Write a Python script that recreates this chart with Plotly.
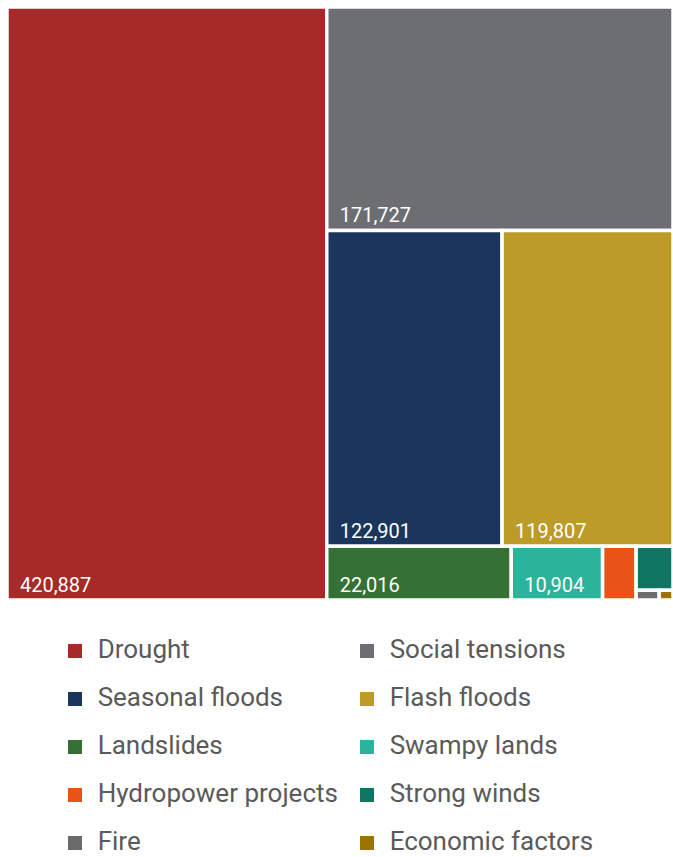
import plotly.graph_objects as go

categories = ["Drought", "Social tensions", "Seasonal floods", "Flash floods",
              "Landslides", "Swampy lands", "Hydropower projects", "Strong winds",
              "Fire", "Economic factors"]
values = [420887, 171727, 122901, 119807, 22016, 10904, 4000, 3600, 500, 300]
colors = ["#A52A28", "#6D6E71", "#1B365D", "#BC9B28", "#357035",
          "#2BB39B", "#E9531A", "#107563", "#6B6B6B", "#9A7300"]

W, H = 673, 857
FONT = "Roboto, Arial, sans-serif"

fig = go.Figure()
fig.add_trace(go.Treemap(
    labels=categories,
    parents=[""] * len(categories),
    values=values,
    marker=dict(colors=colors, line=dict(color="white", width=3.5),
                pad=dict(t=0, l=0, r=0, b=0)),
    pathbar=dict(visible=False),
    texttemplate="\u00a0\u00a0%{value:,}",
    textposition="bottom left",
    textfont=dict(family=FONT, size=20, color="white"),
    tiling=dict(packing="squarify", pad=0),
    sort=True,
    hoverinfo="label+value",
    domain=dict(x=[7 / W, 1.0], y=[(H - 600) / H, 1 - 7 / H]),
))

# legend drawn as markers + text on hidden axes (pixel coordinates)
lx = [75 + 292 * (i % 2) for i in range(len(categories))]
ly = [651 + 48 * (i // 2) for i in range(len(categories))]
fig.add_trace(go.Scatter(
    x=lx, y=ly, mode="markers+text",
    marker=dict(symbol="square", size=14, color=colors),
    text=["\u00a0\u00a0" + c for c in categories],
    textposition="middle right",
    textfont=dict(family=FONT, size=26, color="#5a5a5a"),
    hoverinfo="skip", showlegend=False, cliponaxis=False,
))

fig.update_layout(
    width=W, height=H,
    margin=dict(l=0, r=0, t=0, b=0),
    paper_bgcolor="white", plot_bgcolor="white",
    showlegend=False,
    uniformtext=dict(minsize=18, mode="hide"),
    xaxis=dict(range=[0, W], visible=False, domain=[0, 1], fixedrange=True),
    yaxis=dict(range=[H, 0], visible=False, domain=[0, 1], fixedrange=True),
)

fig.write_html("out.html")
